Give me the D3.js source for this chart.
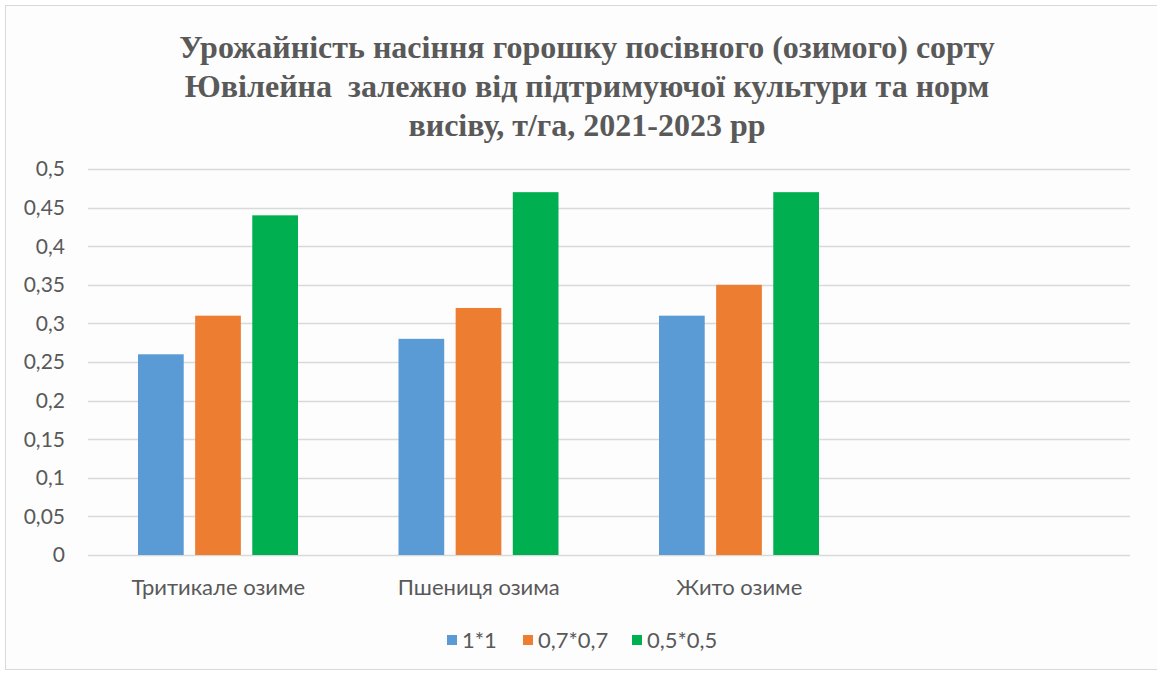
<!DOCTYPE html>
<html>
<head>
<meta charset="utf-8">
<script src="https://cdn.jsdelivr.net/npm/d3@7"></script>
<style>
  body { margin: 0; background: #fff; }
  svg { display: block; }
</style>
</head>
<body>
<div id="chart"></div>
<script>
const titleLines = [
    "Урожайність насіння горошку посівного (озимого) сорту",
    "Ювілейна  залежно від підтримуючої культури та норм",
    "висіву, т/га, 2021-2023 рр"
];
const categories = ["Тритикале озиме", "Пшениця озима", "Жито озиме"];
const seriesNames = ["1*1", "0,7*0,7", "0,5*0,5"];
const seriesColors = ["#5B9BD5", "#ED7D31", "#00B050"];
const values11 = [0.26, 0.28, 0.31];
const values07 = [0.31, 0.32, 0.35];
const values05 = [0.44, 0.47, 0.47];
const yTicks = [0, 0.05, 0.1, 0.15, 0.2, 0.25, 0.3, 0.35, 0.4, 0.45, 0.5];

const seriesValues = [values11, values07, values05];

const width = 1157, height = 675;
const plot = { left: 88, right: 1130, top: 169, bottom: 555 };
const labelFont = "Lato, 'Open Sans', sans-serif";

const svg = d3.select("#chart").append("svg")
    .attr("width", width)
    .attr("height", height);

svg.append("rect")
    .attr("x", 5.5).attr("y", 5.5)
    .attr("width", width).attr("height", 664)
    .attr("fill", "#fdfdfd")
    .attr("stroke", "#d9d9d9");

// title (keeps the double space of the original)
svg.append("text")
    .attr("text-anchor", "middle")
    .style("font-family", "'Liberation Serif', 'Times New Roman', serif")
    .style("font-weight", "bold")
    .style("font-size", "32px")
    .style("white-space", "pre")
    .attr("fill", "#595959")
    .selectAll("tspan")
    .data(titleLines)
    .enter().append("tspan")
    .attr("x", 587)
    .attr("y", (d, i) => 58 + i * 39)
    .text(d => d);

// the source chart keeps an empty fourth slot on the category axis
const x = d3.scaleBand()
    .domain([...categories, ""])
    .range([plot.left, plot.right]);

const xInner = d3.scaleBand()
    .domain(seriesNames)
    .range([50, 210])
    .paddingInner(0.2);

const y = d3.scaleLinear()
    .domain([0, 0.5])
    .range([plot.bottom, plot.top]);

const fmt = v => d3.format("~g")(v).replace(".", ",");

// grid
svg.append("g")
    .selectAll("line")
    .data(yTicks)
    .enter().append("line")
    .attr("x1", plot.left).attr("x2", plot.right)
    .attr("y1", d => Math.round(y(d)) + 0.5)
    .attr("y2", d => Math.round(y(d)) + 0.5)
    .attr("stroke", "#d9d9d9")
    .attr("stroke-width", 1.3);

// y labels
svg.append("g")
    .selectAll("text")
    .data(yTicks)
    .enter().append("text")
    .attr("x", 65)
    .attr("y", d => y(d))
    .attr("dy", "0.35em")
    .attr("text-anchor", "end")
    .style("font-family", labelFont)
    .style("font-size", "21px")
    .attr("fill", "#595959")
    .text(d => fmt(d));

// bars
const groups = svg.append("g")
    .selectAll("g")
    .data(categories)
    .enter().append("g")
    .attr("transform", d => `translate(${x(d)},0)`);

groups.selectAll("rect")
    .data((c, ci) => seriesNames.map((s, si) => ({ s, si, v: seriesValues[si][ci] })))
    .enter().append("rect")
    .attr("x", d => xInner(d.s))
    .attr("width", xInner.bandwidth())
    .attr("y", d => y(d.v))
    .attr("height", d => y(0) - y(d.v))
    .attr("fill", d => seriesColors[d.si]);

// category labels
svg.append("g")
    .selectAll("text")
    .data(categories)
    .enter().append("text")
    .attr("x", d => x(d) + x.bandwidth() / 2)
    .attr("y", 595)
    .attr("text-anchor", "middle")
    .style("font-family", labelFont)
    .style("font-size", "22px")
    .attr("fill", "#595959")
    .text(d => d);

// legend
const legendX = [447, 523, 632];
const legend = svg.append("g")
    .selectAll("g")
    .data(seriesNames)
    .enter().append("g")
    .attr("transform", (d, i) => `translate(${legendX[i]},640)`);

legend.append("rect")
    .attr("x", 0).attr("y", -5)
    .attr("width", 10).attr("height", 10)
    .attr("fill", (d, i) => seriesColors[i]);

legend.append("text")
    .attr("x", 15)
    .attr("y", 0)
    .attr("dy", "0.35em")
    .style("font-family", labelFont)
    .style("font-size", "22px")
    .attr("fill", "#595959")
    .text(d => d);
</script>
</body>
</html>
